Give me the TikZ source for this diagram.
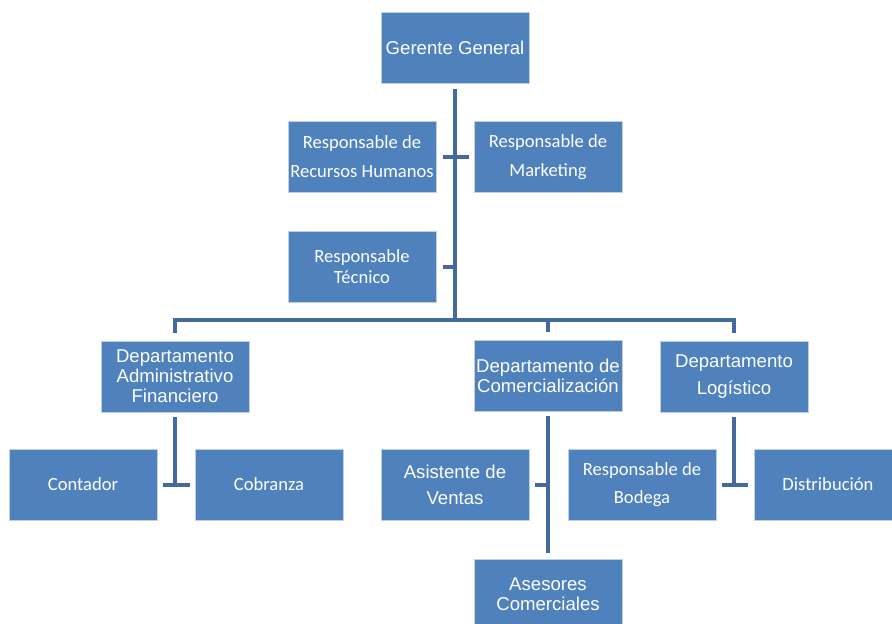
\documentclass[tikz,border=0pt]{standalone}
\usepackage{fontspec}
\newfontfamily\arialf{Liberation Sans}
\newfontfamily\calf{Carlito}
\definecolor{boxfill}{RGB}{79,129,189}
\definecolor{boxline}{RGB}{190,208,232}
\definecolor{connc}{RGB}{66,106,160}
\tikzset{
  orgbox/.style={draw=boxline, line width=0.7pt, fill=boxfill, text=white,
    minimum width=148pt, minimum height=71pt, inner sep=0pt, align=center},
  af/.style={orgbox, font=\arialf\fontsize{18.6}{20}\selectfont},
  cf/.style={orgbox, font=\calf\fontsize{18.6}{21}\selectfont},
  conn/.style={draw=connc, line width=4pt}
}
\begin{document}
\begin{tikzpicture}[x=1pt, y=-1pt]
\useasboundingbox (0,0) rectangle (892,624);
% nodes
\node[af] (gg) at (455,47.5) {Gerente General};
\node[cf] (rr) at (362,157) {Responsable de\\[8pt]Recursos Humanos};
\node[cf] (mk) at (548,157) {Responsable de\\[8pt]Marketing};
\node[cf] (tec) at (362,266.5) {Responsable\\Técnico};
\node[af] (adm) at (175,376.5) {Departamento\\Administrativo\\Financiero};
\node[af] (com) at (548,375.5) {Departamento de\\Comercialización};
\node[af] (log) at (734,376.5) {Departamento\\[7pt]Logístico};
\node[cf] (cont) at (83,484.5) {Contador};
\node[cf] (cob) at (269,484.5) {Cobranza};
\node[af] (asv) at (455,484.5) {Asistente de\\[6pt]Ventas};
\node[cf] (bod) at (642,484.5) {Responsable de\\[7pt]Bodega};
\node[cf] (dist) at (828,484.5) {Distribución};
\node[af] (ase) at (548,594.5) {Asesores\\Comerciales};
\coordinate (bus) at (455,320);
% trunk
\draw[conn, shorten <=6pt] (gg.south) -- (bus);
\draw[conn, shorten <=7pt, shorten >=5pt] (rr.east) -- (mk.west);
\draw[conn, shorten <=7pt] (tec.east) -- (tec.east -| bus);
% bus to departments
\draw[conn, shorten <=8pt, shorten >=8pt] (adm.north) |- (bus) -| (log.north);
\draw[conn, shorten >=8pt] (com.north |- bus) -- (com.north);
% administrative
\draw[conn, shorten <=5pt] (adm.south) -- (adm.south |- cont.east);
\draw[conn, shorten <=6pt, shorten >=5pt] (cont.east) -- (cob.west);
% commercial
\draw[conn, shorten <=5pt, shorten >=6pt] (com.south) -- (ase.north);
\draw[conn, shorten <=6pt] (asv.east) -- (asv.east -| com.south);
% logistics
\draw[conn, shorten <=5pt] (log.south) -- (log.south |- bod.east);
\draw[conn, shorten <=6pt, shorten >=6pt] (bod.east) -- (dist.west);
\end{tikzpicture}
\end{document}
